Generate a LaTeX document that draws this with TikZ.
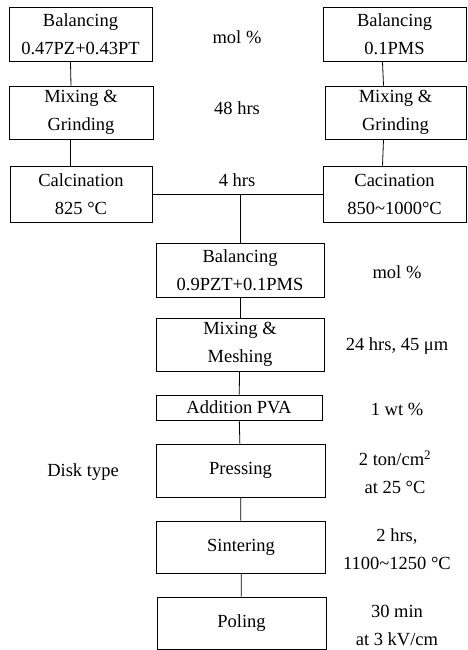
\documentclass[tikz,border=0pt]{standalone}
\usepackage{fontspec}
\setmainfont{Liberation Serif}

\tikzset{
  procbox/.style={draw,line width=0.8pt,align=center,inner sep=0pt,
    minimum height=54pt},
  note/.style={align=center,inner sep=0pt}
}

\begin{document}
\begin{tikzpicture}[x=1pt,y=-1pt,line width=0.8pt,
    font=\fontsize{18.5}{28}\selectfont]
    \useasboundingbox (0,0) rectangle (467,650);

    % two starting columns
    \node[procbox,minimum width=143pt] (balA) at (80.5,34.5)
      {Balancing\\0.47PZ+0.43PT};
    \node[procbox,minimum width=144pt,minimum height=53pt] (mixA) at (81,112.5)
      {Mixing \&\\Grinding};
    \node[procbox,minimum width=142pt,minimum height=56pt] (calA) at (81,194)
      {Calcination\\825 \textdegree C};

    \node[procbox,minimum width=143pt] (balB) at (394.5,34.5)
      {Balancing\\0.1PMS};
    \node[procbox,minimum width=141pt,minimum height=53pt] (mixB) at (395.5,112.5)
      {Mixing \&\\Grinding};
    \node[procbox,minimum width=143pt,minimum height=56pt] (calB) at (394.5,194)
      {Cacination\\850\textasciitilde 1000\textdegree C};

    \node[note] (molA) at (237,37) {mol \%};
    \node[note] (hrsA) at (237,108) {48 hrs};
    \node[note] (hrsB) at (237,180) {4 hrs};

    % main line
    \node[procbox,minimum width=168pt] (balC) at (240,270)
      {Balancing\\0.9PZT+0.1PMS};
    \node[procbox,minimum width=168pt,minimum height=53pt] (mixC) at (240,344.5)
      {Mixing \&\\Meshing};
    \node[procbox,minimum width=166pt,minimum height=25pt] (addC) at (239,407.5)
      {Addition PVA};
    \node[procbox,minimum width=169pt,minimum height=53pt] (press) at (240.5,470.5)
      {Pressing};
    \node[procbox,minimum width=169pt,minimum height=52pt] (sint) at (241,547)
      {Sintering};
    \node[procbox,minimum width=169pt,minimum height=52pt] (pol) at (241.5,623)
      {Poling};

    \node[note] (molC) at (397,272) {mol \%};
    \node[note] (hrsC) at (397,346) {24 hrs, 45 μm};
    \node[note] (wtC) at (397,409) {1 wt \%};
    \node[note] (disk) at (83,472) {Disk type};
    \node[note] (tonC) at (395,472) {2 ton/cm\textsuperscript{2}\\at 25 \textdegree C};
    \node[note] (sinC) at (397,549) {2 hrs,\\1100\textasciitilde 1250 \textdegree C};
    \node[note] (polC) at (397,625) {30 min\\at 3 kV/cm};

    % connectors
    \draw ([xshift=-10pt]balA.south) -- ([xshift=-10pt]mixA.north);
    \draw ([xshift=-11pt]mixA.south) -- ([xshift=-11pt]calA.north);
    \draw ([xshift=-12pt]balB.south) -- ([xshift=-12pt]mixB.north);
    \draw ([xshift=-12pt]mixB.south) -- ([xshift=-12pt]calB.north);
    \draw (calA.east) -- (calB.west);
    \coordinate (join) at (balC.north |- calA.east);
    \draw (join) -- (balC);
    \draw (balC) -- (mixC);
    \draw (mixC) -- (addC);
    \draw (addC) -- (press);
    \draw (press) -- (sint);
    \draw (sint) -- (pol);
\end{tikzpicture}
\end{document}
